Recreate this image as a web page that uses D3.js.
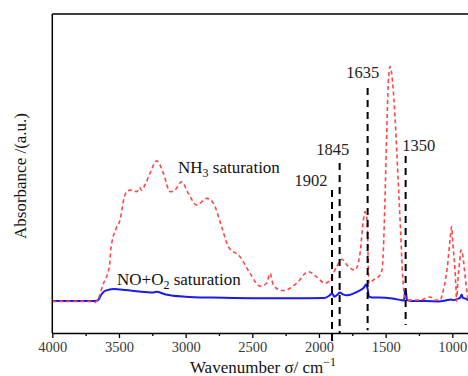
<!DOCTYPE html>
<html>
<head>
    <meta charset="UTF-8">
    <script src="https://d3js.org/d3.v7.min.js"></script>
</head>
<body style="margin:0">
    <svg id="chart"></svg>

    <script>
        // NH3 saturation spectrum [wavenumber, absorbance]
        const nh3Series = [
            [4000, 0.099], [3720, 0.099], [3680, 0.096], [3660, 0.104], [3620, 0.151],
            [3570, 0.214], [3562, 0.260], [3520, 0.329], [3492, 0.354], [3460, 0.426],
            [3442, 0.443], [3417, 0.448], [3367, 0.443], [3345, 0.456], [3330, 0.448],
            [3305, 0.464], [3267, 0.501], [3217, 0.540], [3167, 0.501], [3117, 0.443],
            [3080, 0.448], [3030, 0.474], [2980, 0.438], [2917, 0.401], [2842, 0.422],
            [2792, 0.407], [2730, 0.333], [2680, 0.271], [2592, 0.239], [2517, 0.187],
            [2442, 0.147], [2392, 0.156], [2367, 0.187], [2342, 0.150], [2300, 0.136],
            [2267, 0.133], [2167, 0.156], [2080, 0.192], [2017, 0.176], [1955, 0.156],
            [1917, 0.166], [1867, 0.208], [1830, 0.231], [1780, 0.208], [1730, 0.197],
            [1692, 0.250], [1667, 0.354], [1655, 0.380], [1645, 0.370], [1637, 0.333],
            [1630, 0.208], [1625, 0.156], [1593, 0.166], [1542, 0.182], [1530, 0.192],
            [1517, 0.260], [1505, 0.417], [1492, 0.626], [1480, 0.783], [1467, 0.835],
            [1447, 0.783], [1430, 0.678], [1405, 0.469], [1387, 0.313], [1372, 0.176],
            [1355, 0.114], [1330, 0.103], [1242, 0.103], [1165, 0.113], [1130, 0.103],
            [1092, 0.103], [1067, 0.135], [1037, 0.208], [1017, 0.292], [1005, 0.333],
            [995, 0.276], [980, 0.197], [972, 0.135], [968, 0.100], [958, 0.166],
            [945, 0.223], [935, 0.260], [925, 0.251], [915, 0.223], [905, 0.182],
            [892, 0.135], [880, 0.103], [860, 0.100]
        ];

        // NO+O2 saturation spectrum [wavenumber, absorbance]
        const noSeries = [
            [4000, 0.100], [3700, 0.100], [3660, 0.102], [3630, 0.122], [3600, 0.133],
            [3540, 0.138], [3450, 0.135], [3350, 0.130], [3250, 0.127], [3220, 0.129],
            [3150, 0.121], [3000, 0.114], [2800, 0.111], [2500, 0.109], [2200, 0.109],
            [1960, 0.110], [1920, 0.118], [1902, 0.124], [1885, 0.114], [1860, 0.121],
            [1845, 0.127], [1820, 0.121], [1790, 0.118], [1740, 0.124], [1700, 0.132],
            [1660, 0.144], [1648, 0.152], [1635, 0.138], [1625, 0.114], [1600, 0.111],
            [1550, 0.111], [1450, 0.108], [1380, 0.103], [1362, 0.102], [1355, 0.129],
            [1350, 0.136], [1345, 0.122], [1340, 0.103], [1300, 0.100], [1200, 0.100],
            [1100, 0.099], [1050, 0.102], [1010, 0.105], [990, 0.103], [960, 0.107],
            [940, 0.111], [930, 0.121], [920, 0.110], [900, 0.108], [880, 0.103],
            [860, 0.102]
        ];

        // marked bands: wavenumber, top and bottom of the dashed guide (absorbance)
        const bandWn = [1902, 1845, 1635, 1350];
        const bandTop = [0.448, 0.533, 0.768, 0.555];
        const bandBottom = [-0.034, 0.0, 0.009, 0.025];

        const xTicks = d3.range(4000, 999, -250);

        function draw() {
            const width = 468, height = 376;
            const margin = { left: 52.3, top: 14, bottom: 43 };
            const plotRight = 472.3;
            const serif = 'Liberation Serif';

            const svg = d3.select('#chart')
                .attr('width', width)
                .attr('height', height)
                .attr('font-family', serif);

            const x = d3.scaleLinear()
                .domain([4000, 850])
                .range([margin.left, plotRight]);

            const y = d3.scaleLinear()
                .domain([0, 1])
                .range([height - margin.bottom, margin.top]);

            const y0 = height - margin.bottom;

            svg.append('clipPath').attr('id', 'clip')
                .append('rect')
                .attr('x', margin.left)
                .attr('y', margin.top)
                .attr('width', plotRight - margin.left)
                .attr('height', y0 - margin.top);

            const line = d3.line()
                .x(d => x(d[0]))
                .y(d => y(d[1]))
                .curve(d3.curveMonotoneX);

            const plot = svg.append('g').attr('clip-path', 'url(#clip)');

            plot.append('path')
                .datum(noSeries)
                .attr('d', line)
                .attr('fill', 'none')
                .attr('stroke', '#1a1aee')
                .attr('stroke-width', 2);

            plot.append('path')
                .datum(nh3Series)
                .attr('d', line)
                .attr('fill', 'none')
                .attr('stroke', '#ff4545')
                .attr('stroke-width', 1.6)
                .attr('stroke-dasharray', '4,3');

            // dashed guides for marked bands (may reach below the axis)
            bandWn.forEach((wn, i) => {
                svg.append('line')
                    .attr('x1', x(wn)).attr('x2', x(wn))
                    .attr('y1', y(bandTop[i])).attr('y2', y(bandBottom[i]))
                    .attr('stroke', '#000')
                    .attr('stroke-width', 2)
                    .attr('stroke-dasharray', '7,5');
            });

            // band labels
            const labelDx = [-21, -7, -5, 13];
            const labelDy = [-4, -8, -10, -5];
            bandWn.forEach((wn, i) => {
                svg.append('text')
                    .attr('x', x(wn) + labelDx[i])
                    .attr('y', y(bandTop[i]) + labelDy[i])
                    .attr('text-anchor', 'middle')
                    .attr('font-family', serif)
                    .attr('font-size', 16.5)
                    .attr('fill', '#222')
                    .text(wn);
            });

            // frame
            svg.append('line')
                .attr('x1', margin.left).attr('x2', plotRight)
                .attr('y1', margin.top).attr('y2', margin.top)
                .attr('stroke', '#000').attr('stroke-width', 1.5);
            svg.append('line')
                .attr('x1', margin.left).attr('x2', margin.left)
                .attr('y1', margin.top).attr('y2', y0)
                .attr('stroke', '#000').attr('stroke-width', 1.5);

            const xAxis = d3.axisBottom(x)
                .tickValues(xTicks)
                .tickSizeInner(5)
                .tickSizeOuter(0)
                .tickPadding(4)
                .tickFormat(d => d % 500 === 0 ? d : '');

            const gx = svg.append('g')
                .attr('transform', `translate(0,${y0})`)
                .call(xAxis)
                .attr('font-family', serif)
                .attr('font-size', 14.5);
            gx.select('.domain').attr('stroke', '#000').attr('stroke-width', 1.5);
            gx.selectAll('.tick line').attr('stroke', '#000').attr('stroke-width', 1.3)
                .attr('y2', d => d % 500 === 0 ? 5 : 3);
            gx.selectAll('.tick text')
                .attr('fill', '#3a3a3a');

            // series labels
            const nh3 = svg.append('text')
                .attr('x', 178).attr('y', 173)
                .attr('font-family', serif)
                .attr('font-size', 17).attr('fill', '#111');
            nh3.append('tspan').text('NH');
            nh3.append('tspan').attr('font-size', 12).attr('dy', 4).text('3');
            nh3.append('tspan').attr('dy', -4).text(' saturation');

            const no = svg.append('text')
                .attr('x', 117).attr('y', 285)
                .attr('font-family', serif)
                .attr('font-size', 17).attr('fill', '#111');
            no.append('tspan').text('NO+O');
            no.append('tspan').attr('font-size', 12).attr('dy', 4).text('2');
            no.append('tspan').attr('dy', -4).text(' saturation');

            // axis titles
            const xt = svg.append('text')
                .attr('x', 263).attr('y', 373)
                .attr('text-anchor', 'middle')
                .attr('font-family', serif)
                .attr('font-size', 17).attr('fill', '#111');
            xt.append('tspan').text('Wavenumber σ/ cm');
            xt.append('tspan').attr('font-size', 12).attr('dy', -7).text('−1');

            svg.append('text')
                .attr('transform', 'translate(26,176) rotate(-90)')
                .attr('text-anchor', 'middle')
                .attr('font-family', serif)
                .attr('font-size', 17).attr('fill', '#111')
                .text('Absorbance /(a.u.)');
        }

        draw();
    </script>
</body>
</html>
